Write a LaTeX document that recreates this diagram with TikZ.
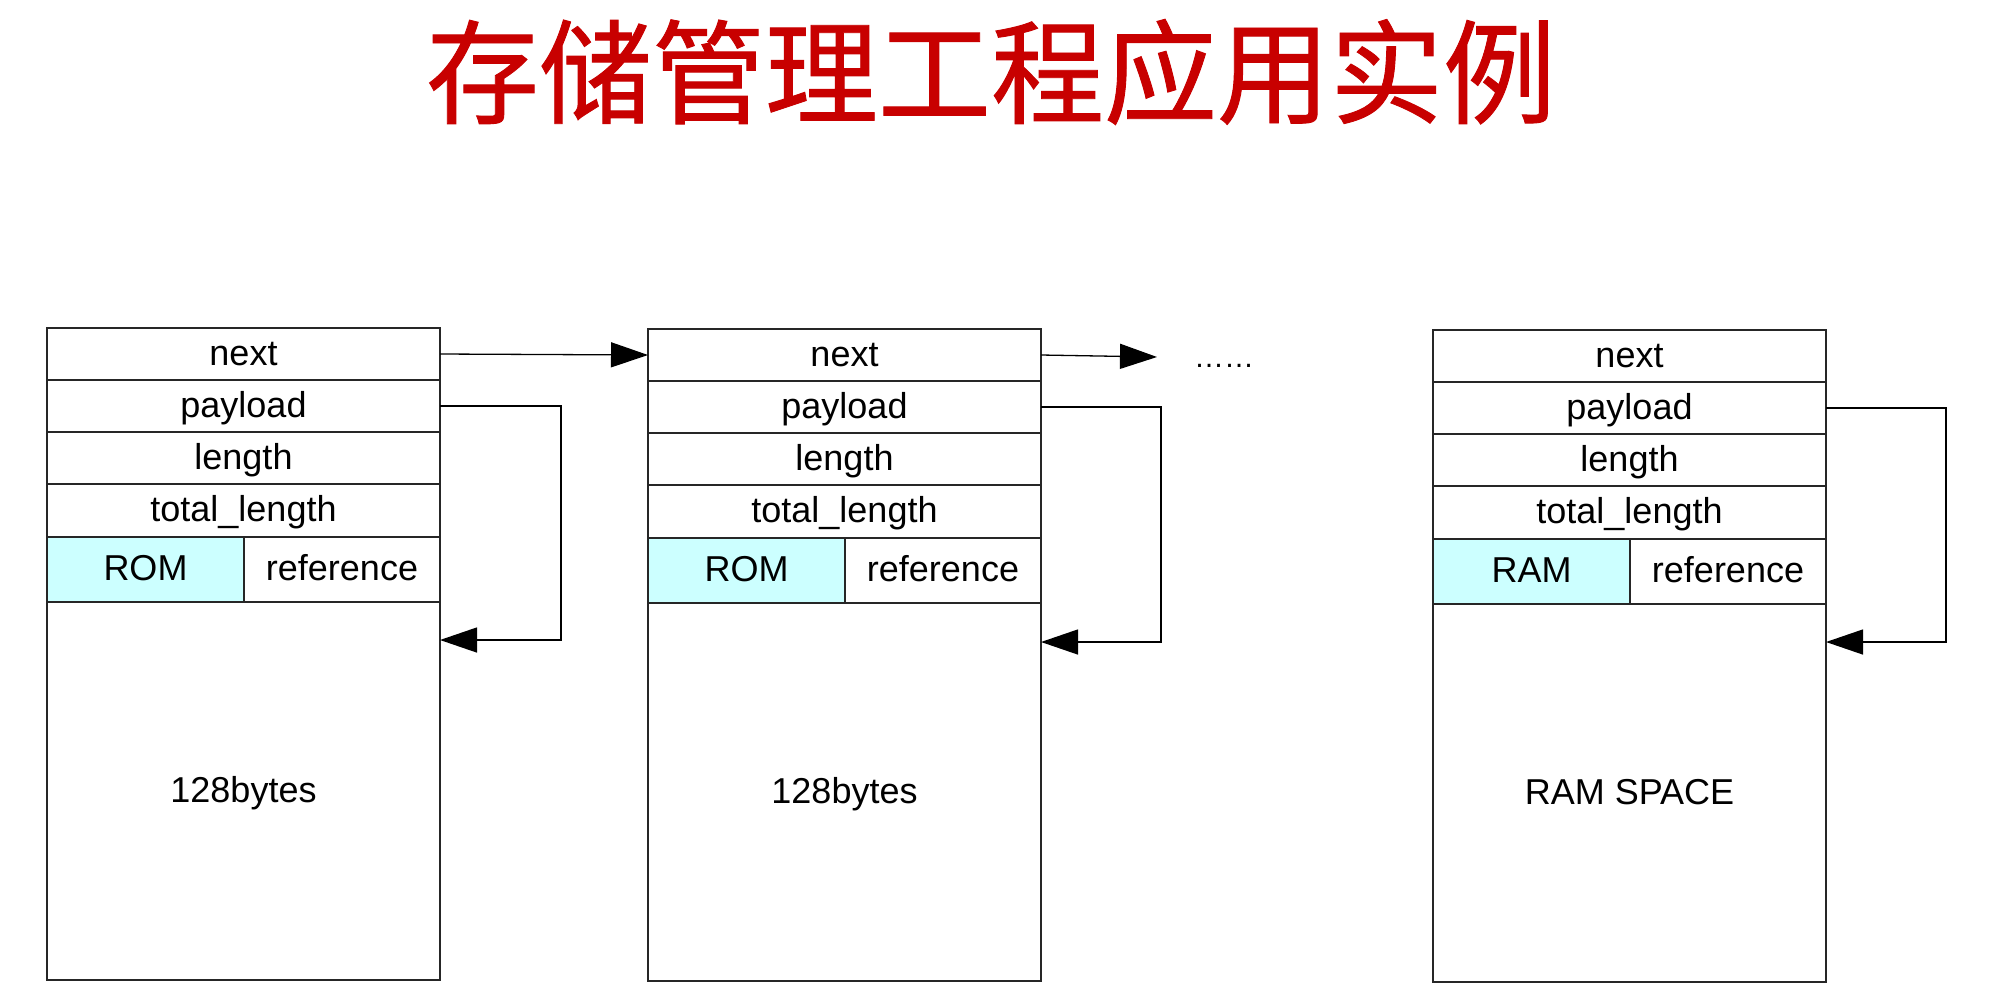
\documentclass[tikz,border=0pt]{standalone}
\usepackage{fontspec}
\setmainfont{Liberation Sans}
\newfontfamily\cjkfont[FakeBold=0.8]{Noto Sans CJK SC}
\usetikzlibrary{arrows.meta}
\definecolor{titlered}{RGB}{200,0,0}
\definecolor{tagcyan}{RGB}{204,255,255}
\tikzset{
  cell/.style={draw=black!85, line width=1.3pt, rectangle, inner sep=0pt, outer sep=0pt,
    anchor=north west, text height=27pt, text depth=5pt,
    font=\fontsize{36}{42}\selectfont},
  link/.style={draw=black, line width=1.3pt, -{Triangle[length=37pt,width=25pt]}},
  dotsstyle/.style={inner sep=0pt, anchor=base, font=\fontsize{30}{36}\selectfont},
  titlestyle/.style={inner sep=0pt, text=titlered, font=\cjkfont\fontsize{113}{113}\selectfont},
}
\newcommand\mblock[5]{%
  \node[cell, minimum width=393pt, minimum height=52pt] (#1-next) at (#2,#3) {next};
  \node[cell, minimum width=393pt, minimum height=52pt] (#1-pay) at (#1-next.south west) {payload};
  \node[cell, minimum width=393pt, minimum height=52pt] (#1-len) at (#1-pay.south west) {length};
  \node[cell, minimum width=393pt, minimum height=53pt] (#1-tot) at (#1-len.south west) {total\_length};
  \node[cell, fill=tagcyan, minimum width=197pt, minimum height=65pt] (#1-tag) at (#1-tot.south west) {#4};
  \node[cell, minimum width=196pt, minimum height=65pt] (#1-ref) at (#1-tag.north east) {reference};
  \node[cell, minimum width=393pt, minimum height=378pt] (#1-body) at (#1-tag.south west) {#5};
}
\begin{document}
\begin{tikzpicture}[x=1pt,y=-1pt]
\useasboundingbox (0,0) rectangle (2000,1005);
\fill[white] (0,0) rectangle (2000,1005);

\node[titlestyle] (title) at (991,72) {存储管理工程应用实例};

\mblock{a}{47}{328}{ROM}{128bytes}
\mblock{b}{648}{329}{ROM}{128bytes}
\mblock{c}{1433}{330}{RAM}{RAM SPACE}

% next links
\draw[link] (a-next.east) -- (b-next.west);
\coordinate (bnextend) at (1157,357);
\draw[link] (b-next.east) -- (bnextend);
\node[dotsstyle] (dots) at (1224,367) {……};

% payload links
\coordinate (aturn) at (561,640);
\draw[link] (a-pay.east) -| (aturn) -- (a-body.north east |- aturn);
\coordinate (bturn) at (1161,642);
\draw[link] (b-pay.east) -| (bturn) -- (b-body.north east |- bturn);
\coordinate (cturn) at (1946,642);
\draw[link] (c-pay.east) -| (cturn) -- (c-body.north east |- cturn);
\end{tikzpicture}
\end{document}
